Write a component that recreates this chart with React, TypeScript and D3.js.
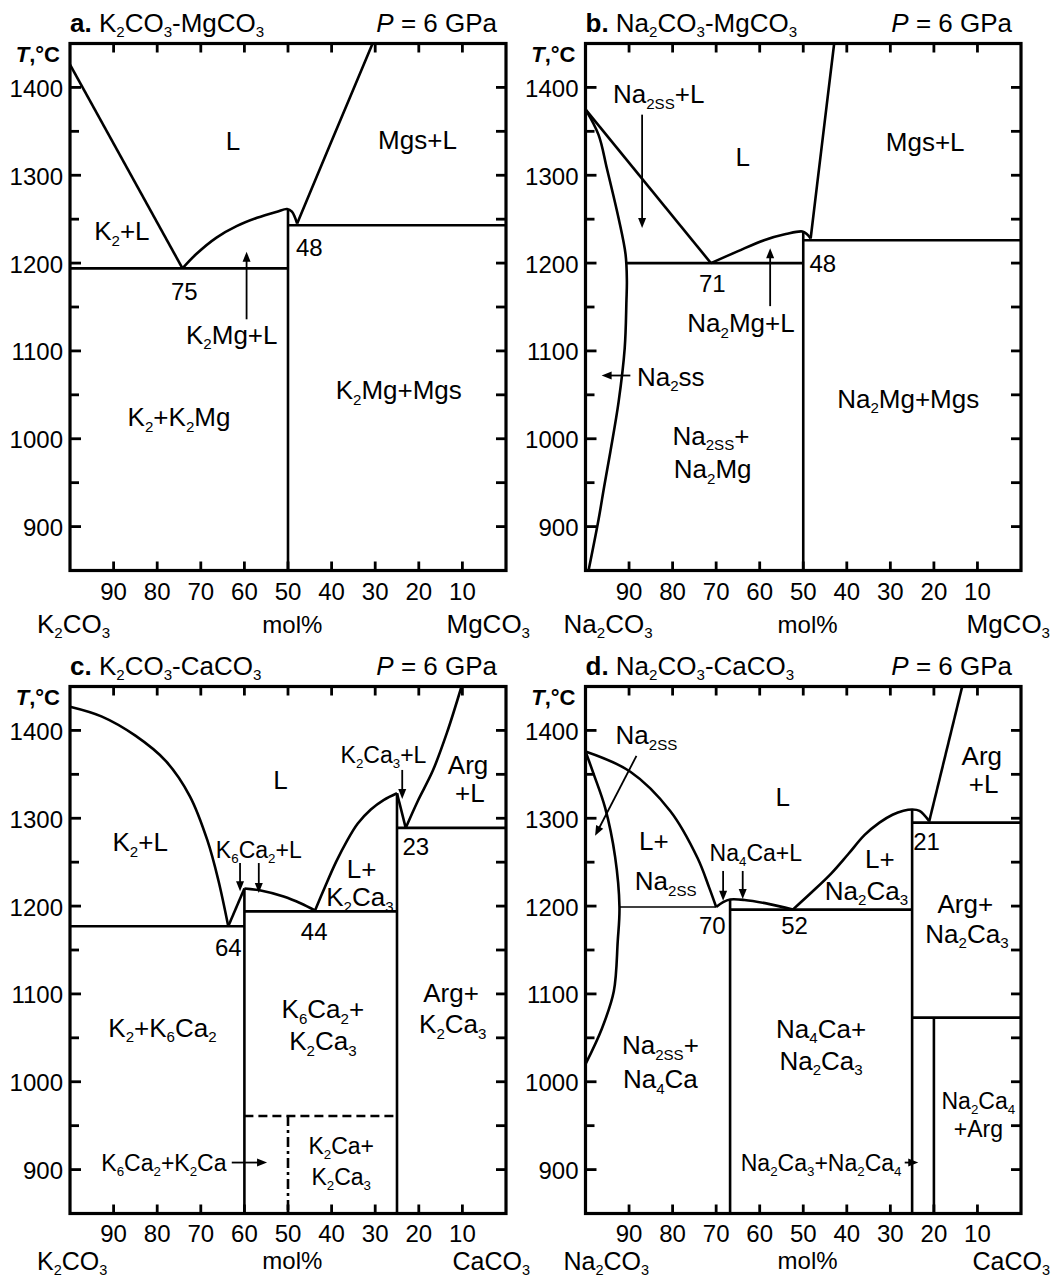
import * as d3 from "d3";

type Pt = [number, number];

const FONT = "'Liberation Sans', Arial, Helvetica, sans-serif";

// shared axes
const molDomain: Pt = [100, 0];
const tempDomain: Pt = [850, 1450];
const molTicks = [90, 80, 70, 60, 50, 40, 30, 20, 10];
const tempTicks = [900, 1000, 1100, 1200, 1300, 1400];
const tempMinorTicks = [950, 1050, 1150, 1250, 1350];

// a. K2CO3-MgCO3
const aK2Liquidus: Pt[] = [[100, 1426], [74.2, 1194]];
const aEutectic: Pt[] = [[100, 1194], [50, 1194]];
const aK2MgLiquidus: Pt[] = [[74.2, 1194], [71.1, 1210], [66.4, 1229], [61.8, 1242], [57.1, 1251.5], [52.5, 1258.5], [50.2, 1261.5], [49.1, 1258.5], [48.4, 1252], [47.9, 1245]];
const aMgsLiquidus: Pt[] = [[47.9, 1245], [40, 1339], [30.6, 1450]];
const aPeritectic: Pt[] = [[50, 1243], [0, 1243]];
const aK2MgLine: Pt[] = [[50, 850], [50, 1261]];

// b. Na2CO3-MgCO3
const bLiquidus: Pt[] = [[100, 1375], [71.2, 1200]];
const bSolvus: Pt[] = [[100, 1375], [97, 1346], [95.1, 1308], [92.4, 1251], [90.8, 1210], [90.5, 1180], [90.6, 1157], [91, 1103], [92.4, 1042], [94.3, 985], [95.7, 946], [97, 908], [99.3, 850]];
const bEutectic: Pt[] = [[90.6, 1200], [50, 1200]];
const bNa2MgLiquidus: Pt[] = [[71.2, 1200], [65.1, 1213.3], [59, 1226], [54, 1233], [50.2, 1236], [49.2, 1233], [48.3, 1228]];
const bMgsLiquidus: Pt[] = [[48.3, 1228], [45.9, 1327], [42.9, 1450]];
const bPeritectic: Pt[] = [[50, 1226], [0, 1226]];
const bNa2MgLine: Pt[] = [[50, 850], [50, 1236]];

// c. K2CO3-CaCO3
const cK2Liquidus: Pt[] = [[100, 1427], [92.8, 1416], [85, 1394], [78, 1365], [72.5, 1325], [68.5, 1275], [66, 1230], [63.7, 1177]];
const cEutectic: Pt[] = [[100, 1177], [60, 1177]];
const cK6Ca2Rise: Pt[] = [[63.7, 1177], [60, 1220]];
const cK6Ca2Liquidus: Pt[] = [[60, 1220], [56, 1217.5], [51, 1211], [47, 1203], [43.8, 1195]];
const cEutectic2: Pt[] = [[60, 1194], [25, 1194]];
const cK2Ca3Liquidus: Pt[] = [[43.8, 1195], [41.5, 1222], [39, 1250], [36.5, 1274], [34, 1294], [31, 1310], [28, 1321], [25, 1328.5]];
const cK2Ca3Drop: Pt[] = [[25, 1328.5], [23, 1289]];
const cPeritectic: Pt[] = [[25, 1289], [0, 1289]];
const cArgLiquidus: Pt[] = [[23, 1289], [20.2, 1320], [16.8, 1354], [13.5, 1398], [10.2, 1450]];
const cK6Ca2Line: Pt[] = [[60, 850], [60, 1220]];
const cK2Ca3Line: Pt[] = [[25, 850], [25, 1328.5]];
const cK2CaTop: Pt[] = [[60, 961], [25, 961]];
const cK2CaLine: Pt[] = [[50, 961], [50, 850]];

// d. Na2CO3-CaCO3
const dLiquidus: Pt[] = [[100, 1376], [89.7, 1353], [80.5, 1308], [74.3, 1255], [71.6, 1221], [70, 1199]];
const dSolvus: Pt[] = [[100, 1376], [98.1, 1350], [95.5, 1312], [93.2, 1256], [92.2, 1199], [92.6, 1160], [93.5, 1103], [96.2, 1061], [100, 1020]];
const dEutectic: Pt[] = [[92.2, 1199], [70, 1199]];
const dNa4CaLiquidus: Pt[] = [[70, 1199], [68.4, 1204.5], [66.8, 1207.5], [63.5, 1207], [58, 1202.5], [52.4, 1196]];
const dEutectic2: Pt[] = [[66.8, 1196], [25, 1196]];
const dNa2Ca3Liquidus: Pt[] = [[52.4, 1196], [48, 1216], [43.6, 1237], [39.7, 1259], [35.9, 1281], [32.5, 1295], [29.5, 1304], [27, 1308.5], [25, 1310], [23.3, 1308.5], [21.1, 1297]];
const dPeritectic: Pt[] = [[25, 1295], [0, 1295]];
const dArgLiquidus: Pt[] = [[21.1, 1296], [13.5, 1450]];
const dNa4CaLine: Pt[] = [[66.8, 850], [66.8, 1207.5]];
const dNa2Ca3Line: Pt[] = [[25, 850], [25, 1310]];
const dNa2Ca4Top: Pt[] = [[25, 1073], [0, 1073]];
const dNa2Ca4Line: Pt[] = [[20, 850], [20, 1073]];

// labels: [text, mol%, T, size, anchor]
type Label = [string, number, number, string, string?];
const aLabels: Label[] = [
  ["L", 62.6, 1339, "big"],
  ["Mgs+L", 20.3, 1341, "big"],
  ["K{2}+L", 88.1, 1237, "big"],
  ["48", 45.1, 1218, "num"],
  ["75", 73.8, 1168, "num"],
  ["K{2}Mg+L", 62.9, 1119, "big"],
  ["K{2}+K{2}Mg", 75, 1025, "big"],
  ["K{2}Mg+Mgs", 24.6, 1056, "big"],
];
const bLabels: Label[] = [
  ["Na{2SS}+L", 83.2, 1393, "big"],
  ["L", 63.9, 1321, "big"],
  ["Mgs+L", 22, 1338, "big"],
  ["71", 70.9, 1177, "num"],
  ["48", 45.5, 1200, "num"],
  ["Na{2}Mg+L", 64.3, 1132, "big"],
  ["Na{2}ss", 88.2, 1071, "big", "start"],
  ["Na{2SS}+", 71.2, 1004, "big"],
  ["Na{2}Mg", 70.8, 966, "big"],
  ["Na{2}Mg+Mgs", 25.9, 1046, "big"],
];
const cLabels: Label[] = [
  ["L", 51.7, 1344, "big"],
  ["K{2}+L", 83.9, 1273, "big"],
  ["K{6}Ca{2}+L", 56.7, 1264, "small"],
  ["K{2}Ca{3}+L", 28.1, 1372, "small"],
  ["Arg", 8.7, 1361, "big"],
  ["+L", 8.3, 1329, "big"],
  ["23", 20.7, 1268, "num"],
  ["L+", 33.1, 1243, "big"],
  ["K{2}Ca{3}", 33.5, 1211, "big"],
  ["44", 44, 1171, "num"],
  ["64", 63.7, 1153, "num"],
  ["K{2}+K{6}Ca{2}", 78.8, 1062, "big"],
  ["K{6}Ca{2}+", 42, 1083, "big"],
  ["K{2}Ca{3}", 42, 1047, "big"],
  ["Arg+", 12.6, 1102, "big"],
  ["K{2}Ca{3}", 12.2, 1066, "big"],
  ["K{6}Ca{2}+K{2}Ca", 64.1, 908, "small", "end"],
  ["K{2}Ca+", 37.8, 927, "small"],
  ["K{2}Ca{3}", 37.8, 892, "small"],
];
const dLabels: Label[] = [
  ["Na{2SS}", 86, 1395, "big"],
  ["L", 54.7, 1325, "big"],
  ["L+", 84.3, 1274, "big"],
  ["Na{2SS}", 81.6, 1229, "big"],
  ["Na{4}Ca+L", 60.9, 1261, "small"],
  ["L+", 32.4, 1254, "big"],
  ["Na{2}Ca{3}", 35.5, 1218, "big"],
  ["Arg", 9, 1371, "big"],
  ["+L", 8.6, 1339, "big"],
  ["21", 21.7, 1274, "num"],
  ["70", 70.9, 1178, "num"],
  ["52", 52, 1178, "num"],
  ["Arg+", 12.8, 1203, "big"],
  ["Na{2}Ca{3}", 12.4, 1169, "big"],
  ["Na{2SS}+", 82.8, 1042, "big"],
  ["Na{4}Ca", 82.8, 1003, "big"],
  ["Na{4}Ca+", 45.9, 1061, "big"],
  ["Na{2}Ca{3}", 45.9, 1024.5, "big"],
  ["Na{2}Ca{4}", 9.8, 978.5, "small"],
  ["+Arg", 9.8, 946, "small"],
  ["Na{2}Ca{3}+Na{2}Ca{4}", 45.9, 908, "small"],
];

// arrows: [x1, T1, x2, T2], head at the second point
const aArrows = [[59.5, 1136, 59.5, 1213]];
const bArrows = [[87, 1369, 87, 1240], [57.6, 1151, 57.6, 1217], [89.7, 1072, 96.3, 1072]];
const cArrows = [[61, 1249, 61, 1217], [56.7, 1249, 56.7, 1215], [23.8, 1355, 23.8, 1322], [62.9, 908, 54.8, 908]];
const dArrows = [[88.3, 1371, 97.8, 1280], [68.4, 1240, 68.4, 1206], [63.9, 1240, 63.9, 1208], [26.7, 908, 23.6, 908]];

const sizes: Record<string, number> = { big: 26, small: 23, num: 24 };

type Boundary = { pts: Pt[]; kind: string };

const panels = [
  {
    key: "a", left: 70, right: 506, top: 43.5, bottom: 570.5,
    letter: "a.", system: "K{2}CO{3}-MgCO{3}", leftComp: "K{2}CO{3}", rightComp: "MgCO{3}", compDx: [-33, 24],
    boundaries: [
      { pts: aK2Liquidus, kind: "line" }, { pts: aEutectic, kind: "line" }, { pts: aK2MgLiquidus, kind: "curve" },
      { pts: aMgsLiquidus, kind: "curve" }, { pts: aPeritectic, kind: "line" }, { pts: aK2MgLine, kind: "line" },
    ] as Boundary[],
    labels: aLabels, arrows: aArrows,
  },
  {
    key: "b", left: 585.5, right: 1021, top: 43.5, bottom: 570.5,
    letter: "b.", system: "Na{2}CO{3}-MgCO{3}", leftComp: "Na{2}CO{3}", rightComp: "MgCO{3}", compDx: [-22, 29],
    boundaries: [
      { pts: bLiquidus, kind: "line" }, { pts: bSolvus, kind: "curve" }, { pts: bEutectic, kind: "line" },
      { pts: bNa2MgLiquidus, kind: "curve" }, { pts: bMgsLiquidus, kind: "curve" }, { pts: bPeritectic, kind: "line" },
      { pts: bNa2MgLine, kind: "line" },
    ] as Boundary[],
    labels: bLabels, arrows: bArrows,
  },
  {
    key: "c", left: 70, right: 506, top: 686.5, bottom: 1213.5,
    letter: "c.", system: "K{2}CO{3}-CaCO{3}", leftComp: "K{2}CO{3}", rightComp: "CaCO{3}", compDx: [-33, 24],
    boundaries: [
      { pts: cK2Liquidus, kind: "curve" }, { pts: cEutectic, kind: "line" }, { pts: cK6Ca2Rise, kind: "line" },
      { pts: cK6Ca2Liquidus, kind: "curve" }, { pts: cEutectic2, kind: "line" }, { pts: cK2Ca3Liquidus, kind: "curve" },
      { pts: cK2Ca3Drop, kind: "line" }, { pts: cPeritectic, kind: "line" }, { pts: cArgLiquidus, kind: "curve" },
      { pts: cK6Ca2Line, kind: "line" }, { pts: cK2Ca3Line, kind: "line" }, { pts: cK2CaTop, kind: "dash" },
      { pts: cK2CaLine, kind: "dashdot" },
    ] as Boundary[],
    labels: cLabels, arrows: cArrows,
  },
  {
    key: "d", left: 585.5, right: 1021, top: 686.5, bottom: 1213.5,
    letter: "d.", system: "Na{2}CO{3}-CaCO{3}", leftComp: "Na{2}CO{3}", rightComp: "CaCO{3}", compDx: [-22, 29],
    boundaries: [
      { pts: dLiquidus, kind: "curve" }, { pts: dSolvus, kind: "curve" }, { pts: dEutectic, kind: "thin" },
      { pts: dNa4CaLiquidus, kind: "curve" }, { pts: dEutectic2, kind: "line" }, { pts: dNa2Ca3Liquidus, kind: "curve" },
      { pts: dPeritectic, kind: "line" }, { pts: dArgLiquidus, kind: "line" }, { pts: dNa4CaLine, kind: "line" },
      { pts: dNa2Ca3Line, kind: "line" }, { pts: dNa2Ca4Top, kind: "line" }, { pts: dNa2Ca4Line, kind: "line" },
    ] as Boundary[],
    labels: dLabels, arrows: dArrows,
  },
];

// "K{2}CO{3}" -> tspans with subscripts
function rich(str: string, fs: number, drop = 0.22) {
  const parts = str.split(/(\{[^}]*\})/).filter((p) => p.length > 0);
  const shift = fs * drop;
  let down = false;
  return parts.map((p, i) => {
    if (p.startsWith("{")) {
      const dy = down ? 0 : shift;
      down = true;
      return (
        <tspan key={i} fontSize={fs * 0.58} dy={dy}>
          {p.slice(1, -1)}
        </tspan>
      );
    }
    const dy = down ? -shift : 0;
    down = false;
    return (
      <tspan key={i} dy={dy}>
        {p}
      </tspan>
    );
  });
}

function Panel({ cfg }: { cfg: (typeof panels)[number] }) {
  const x = d3.scaleLinear().domain(molDomain).range([cfg.left, cfg.right]);
  const y = d3.scaleLinear().domain(tempDomain).range([cfg.bottom, cfg.top]);
  const straight = d3.line<Pt>().x((d) => x(d[0])).y((d) => y(d[1]));
  const smooth = d3
    .line<Pt>()
    .x((d) => x(d[0]))
    .y((d) => y(d[1]))
    .curve(d3.curveCatmullRom.alpha(0.5));
  const lowRow = cfg.bottom > 1000;
  const compY = lowRow ? 1269.5 : cfg.bottom + 62.5;
  const compFs = lowRow ? 25 : 26;
  const tickY = cfg.bottom + (lowRow ? 28 : 29.5);

  return (
    <g>
      {/* title */}
      <text x={cfg.left} y={cfg.top - 12} fontSize={26}>
        <tspan fontWeight="bold">{cfg.letter}</tspan>
        <tspan> </tspan>
        {rich(cfg.system, 26)}
      </text>
      <text x={cfg.right - 9} y={cfg.top - 12} fontSize={26} textAnchor="end">
        <tspan fontStyle="italic">P</tspan> = 6 GPa
      </text>
      <text x={cfg.left - 10} y={cfg.top + 18} fontSize={22} fontWeight="bold" textAnchor="end">
        <tspan fontStyle="italic">T</tspan>,°C
      </text>

      {/* phase boundaries */}
      {cfg.boundaries.map((b, i) => (
        <path
          key={i}
          d={(b.kind === "curve" ? smooth : straight)(b.pts) || ""}
          fill="none"
          stroke="#000"
          strokeWidth={b.kind === "thin" ? 1.5 : 2.6}
          strokeDasharray={b.kind === "dash" ? "9,5" : b.kind === "dashdot" ? "10,4,3,4" : undefined}
          strokeLinejoin="round"
        />
      ))}

      {/* ticks */}
      {tempTicks.concat(tempMinorTicks).map((t) => {
        const len = tempTicks.includes(t) ? 11 : 9;
        return (
          <g key={"t" + t}>
            <line x1={cfg.left} x2={cfg.left + len} y1={y(t)} y2={y(t)} stroke="#000" strokeWidth={2.8} />
            <line x1={cfg.right} x2={cfg.right - 10} y1={y(t)} y2={y(t)} stroke="#000" strokeWidth={2.8} />
          </g>
        );
      })}
      {molTicks.map((m) => (
        <g key={"m" + m}>
          <line x1={x(m)} x2={x(m)} y1={cfg.top} y2={cfg.top + 9} stroke="#000" strokeWidth={2.8} />
          <line x1={x(m)} x2={x(m)} y1={cfg.bottom} y2={cfg.bottom - 9} stroke="#000" strokeWidth={2.8} />
        </g>
      ))}
      <rect
        x={cfg.left}
        y={cfg.top}
        width={cfg.right - cfg.left}
        height={cfg.bottom - cfg.top}
        fill="none"
        stroke="#000"
        strokeWidth={3.2}
      />

      {/* tick labels */}
      {tempTicks.map((t) => (
        <text key={"tl" + t} x={cfg.left - 7} y={y(t) + 9.5} fontSize={24} textAnchor="end">
          {t}
        </text>
      ))}
      {molTicks.map((m) => (
        <text key={"ml" + m} x={x(m)} y={tickY} fontSize={24} textAnchor="middle">
          {m}
        </text>
      ))}
      <text x={cfg.left + cfg.compDx[0]} y={compY} fontSize={compFs}>
        {rich(cfg.leftComp, compFs, 0.2)}
      </text>
      <text x={x(49)} y={compY - 0.5} fontSize={24} textAnchor="middle">
        mol%
      </text>
      <text x={cfg.right + cfg.compDx[1]} y={compY} fontSize={compFs} textAnchor="end">
        {rich(cfg.rightComp, compFs, 0.2)}
      </text>

      {/* region labels */}
      {cfg.labels.map((l, i) => {
        const fs = sizes[l[3]];
        return (
          <text key={"l" + i} x={x(l[1])} y={y(l[2]) + fs * 0.36} fontSize={fs} textAnchor={l[4] || "middle"}>
            {rich(l[0], fs)}
          </text>
        );
      })}

      {/* arrows */}
      {cfg.arrows.map((a, i) => {
        const x1 = x(a[0]), y1 = y(a[1]), x2 = x(a[2]), y2 = y(a[3]);
        const dx = x2 - x1, dy = y2 - y1;
        const len = Math.hypot(dx, dy);
        const ux = dx / len, uy = dy / len;
        const hl = 10, hw = 4;
        const bx = x2 - ux * hl, by = y2 - uy * hl;
        const pts = [
          [x2, y2],
          [bx - uy * hw, by + ux * hw],
          [bx + uy * hw, by - ux * hw],
        ];
        return (
          <g key={"a" + i}>
            <line x1={x1} y1={y1} x2={bx + ux * 2} y2={by + uy * 2} stroke="#000" strokeWidth={1.8} />
            <polygon points={pts.map((p) => p.join(",")).join(" ")} fill="#000" />
          </g>
        );
      })}
    </g>
  );
}

export default function App() {
  return (
    <svg
      width={1055}
      height={1278}
      style={{ position: "absolute", left: 0, top: 0, background: "#fff" }}
      fontFamily={FONT}
    >
      <rect x={0} y={0} width={1055} height={1278} fill="#fff" />
      {panels.map((p) => (
        <Panel key={p.key} cfg={p} />
      ))}
    </svg>
  );
}
